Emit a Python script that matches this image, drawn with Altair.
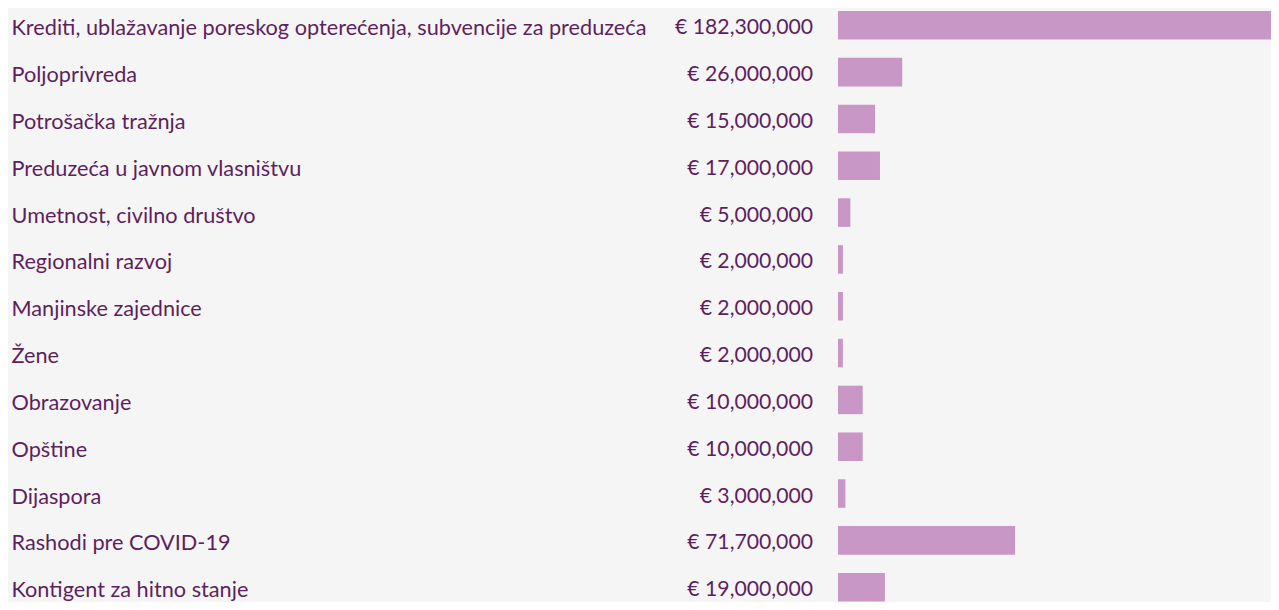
import altair as alt
import pandas as pd

categories = [
    "Krediti, ublažavanje poreskog opterećenja, subvencije za preduzeća",
    "Poljoprivreda",
    "Potrošačka tražnja",
    "Preduzeća u javnom vlasništvu",
    "Umetnost, civilno društvo",
    "Regionalni razvoj",
    "Manjinske zajednice",
    "Žene",
    "Obrazovanje",
    "Opštine",
    "Dijaspora",
    "Rashodi pre COVID-19",
    "Kontigent za hitno stanje",
]
amounts = [182300000, 26000000, 15000000, 17000000, 5000000, 2000000, 2000000,
           2000000, 10000000, 10000000, 3000000, 71700000, 19000000]

df = pd.DataFrame({"category": categories, "amount": amounts})
df["label"] = ["€ " + f"{v:,}" for v in amounts]

TEXT = "#5e1f5e"
BAR = "#c997c5"
FONT = "Lato"

y = alt.Y(
    "category:N",
    sort=categories,
    scale=alt.Scale(range=[3, 593.5], paddingInner=0.39, paddingOuter=0),
    axis=alt.Axis(
        title=None, domain=False, ticks=False, tickSize=0, labelAlign="left",
        labelPadding=827, labelOffset=3, labelFont=FONT, labelFontSize=21.7,
        labelColor=TEXT, labelLimit=800, grid=False,
    ),
)
xs = alt.Scale(domain=[0, 175300000], nice=False, zero=True)

bars = alt.Chart(df).mark_bar(color=BAR, clip=True).encode(
    x=alt.X("amount:Q", scale=xs, axis=None),
    y=y,
)
values = alt.Chart(df).mark_text(
    align="right", baseline="middle", dx=-25, dy=3, font=FONT, fontSize=21.2,
    color=TEXT,
).encode(
    x=alt.value(0),
    y=y,
    text="label:N",
)

chart = alt.layer(bars, values).properties(
    width=433, height=594,
    autosize=alt.AutoSizeParams(type="none"),
    padding={"left": 830, "top": 0, "right": 0, "bottom": 0},
    background="#f5f5f5",
).configure_view(stroke=None)

chart.save("out.html", embed_options={"renderer": "svg", "actions": False})
